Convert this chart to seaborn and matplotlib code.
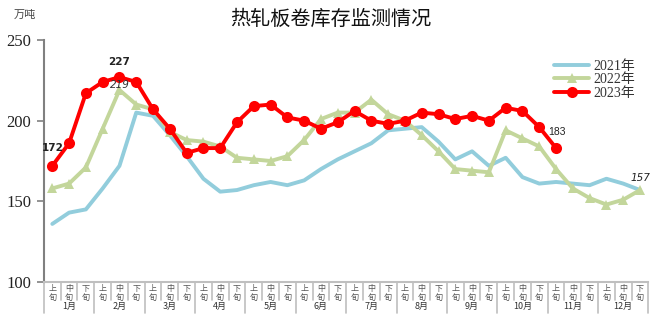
import numpy as np
import pandas as pd
import matplotlib
matplotlib.use("Agg")
import matplotlib.pyplot as plt
import matplotlib.transforms as mtransforms
import seaborn as sns

months = ["1月", "2月", "3月", "4月", "5月", "6月", "7月", "8月", "9月", "10月", "11月", "12月"]
dekads = ["上\n旬", "中\n旬", "下\n旬"]

v2021 = [136, 143, 145, 158, 172, 205, 203, 191, 178, 164, 156, 157, 160, 162, 160, 163,
         170, 176, 181, 186, 194, 195, 196, 187, 176, 181, 172, 177, 165, 161, 162, 161,
         160, 164, 161, 157]
v2022 = [158, 161, 171, 195, 219, 210, 207, 193, 188, 187, 184, 177, 176, 175, 178, 188,
         201, 205, 205, 213, 204, 200, 191, 181, 170, 169, 168, 194, 189, 184, 170, 158,
         152, 148, 151, 157]
v2023 = [172, 186, 217, 224, 227, 224, 207, 195, 180, 183, 183, 199, 209, 210, 202, 200,
         195, 199, 206, 200, 198, 200, 205, 204, 201, 203, 200, 208, 206, 196, 183]

sns.set_theme(style="white")
plt.rcParams["font.family"] = ["Liberation Serif", "Noto Sans CJK SC", "DejaVu Sans"]

fig = plt.figure(figsize=(6.6, 3.25), dpi=100)
ax = fig.add_axes([43.9 / 660, 1 - 282 / 325, (648.4 - 43.9) / 660, 242 / 325])

df21 = pd.DataFrame({"idx": np.arange(len(v2021)), "val": v2021})
df22 = pd.DataFrame({"idx": np.arange(len(v2022)), "val": v2022})
df23 = pd.DataFrame({"idx": np.arange(len(v2023)), "val": v2023})

sns.lineplot(data=df21, x="idx", y="val", ax=ax, color="#92CDDC", lw=2.8, label="2021年")
sns.lineplot(data=df22, x="idx", y="val", ax=ax, color="#C3D69B", lw=2.8, marker="^",
             markersize=7, markeredgewidth=0, label="2022年")
sns.lineplot(data=df23, x="idx", y="val", ax=ax, color="#FF0000", lw=2.8, marker="o",
             markersize=8, markeredgewidth=0, label="2023年")

ax.set_xlim(-0.5, 35.5)
ax.set_ylim(100, 250)
ax.set_yticks([100, 150, 200, 250])
ax.set_yticklabels(["100", "150", "200", "250"], fontsize=12, color="#222222")
ax.set_xlabel("")
ax.set_ylabel("")
ax.tick_params(axis="y", which="major", direction="out", length=5, width=1.2,
               color="#808080", left=True, pad=4)
ax.set_xticks(np.arange(36))
ax.set_xticklabels([dekads[i % 3] for i in range(36)], fontsize=5.8, color="#555555",
                   linespacing=0.95, family=["Noto Sans CJK SC"])
ax.tick_params(axis="x", length=0, pad=1.5)
for s in ["top", "right"]:
    ax.spines[s].set_visible(False)
ax.spines["left"].set_color("#808080")
ax.spines["left"].set_linewidth(1.5)
ax.spines["bottom"].set_color("#BFBFBF")
ax.spines["bottom"].set_linewidth(1.5)

trans = mtransforms.blended_transform_factory(ax.transData, ax.transAxes)
for b in np.arange(-0.5, 36, 1.0):
    is_month = (int(b + 0.5) % 3 == 0)
    y_end = -0.128 if is_month else -0.074
    ax.plot([b, b], [0, y_end], transform=trans, color="#BFBFBF", lw=1.2, clip_on=False)
for m, name in enumerate(months):
    ax.text(3 * m + 1, -0.101, name, transform=trans, ha="center", va="center",
            fontsize=6.5, color="#333333", family=["Noto Sans CJK SC"])

# annotations
ax.text(0, 183, "172", ha="center", va="center", fontsize=7.5, fontweight="bold",
        family="DejaVu Sans", color="#222222")
ax.text(4, 236.4, "227", ha="center", va="center", fontsize=7.5, fontweight="bold",
        family="DejaVu Sans", color="#222222")
ax.text(4, 221.8, "219", ha="center", va="center", fontsize=7.5, style="italic",
        family="DejaVu Sans", color="#333333")
ax.text(30.06, 193, "183", ha="center", va="center", fontsize=7.5,
        family="Liberation Sans", color="#222222")
ax.text(35, 164.3, "157", ha="center", va="center", fontsize=7.5, style="italic",
        family="DejaVu Sans", color="#222222")

leg = ax.legend(loc="upper right", bbox_to_anchor=(642 / 660, 1 - 53 / 325),
                bbox_transform=fig.transFigure, frameon=False, fontsize=10,
                handlelength=2.5, handletextpad=0.3, labelspacing=0.02, borderpad=0)
for t in leg.get_texts():
    t.set_color("#333333")

fig.text(331 / 660, 1 - 19 / 325, "热轧板卷库存监测情况", ha="center", va="center",
         fontsize=14.5, family=["Noto Sans CJK SC"], color="#111111")
fig.text(25 / 660, 1 - 15 / 325, "万吨", ha="center", va="center", fontsize=8,
         family=["Noto Sans CJK SC"], color="#444444")

fig.savefig("out.png", dpi=100)
